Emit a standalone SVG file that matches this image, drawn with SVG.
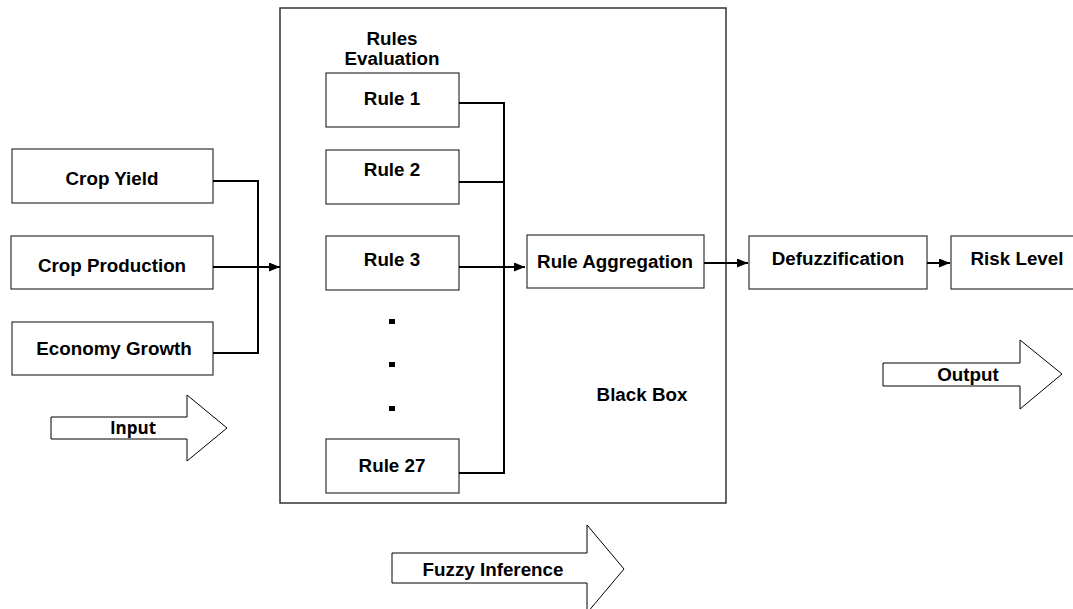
<svg xmlns="http://www.w3.org/2000/svg" width="1073" height="609" viewBox="0 0 1073 609">
<defs>
<marker id="ah" markerWidth="11" markerHeight="9" refX="11" refY="4.5" orient="auto" markerUnits="userSpaceOnUse">
<path d="M0,0 L11,4.5 L0,9 Z" fill="#000"/>
</marker>
<style>
.box{fill:#fff;stroke:#333;stroke-width:1.2}
.big{fill:#fff;stroke:#333;stroke-width:1.5}
.t{font-family:"Liberation Sans",Arial,sans-serif;font-weight:bold;font-size:18.8px;fill:#000;text-anchor:middle}
.c{fill:none;stroke:#000;stroke-width:2}
.blk{fill:#fff;stroke:#000;stroke-width:1}
.ti{font-family:"Open Sans",sans-serif;font-weight:bold;font-size:17px;fill:#000;text-anchor:middle}
</style>
</defs>
<rect width="1073" height="609" fill="#fff"/>
<g id="blackbox">
<rect class="big" x="280" y="8" width="446" height="495"/>
<text class="t" x="642" y="401">Black Box</text>
</g>
<g id="rules-evaluation-label">
<text class="t" x="392" y="45">Rules</text>
<text class="t" x="392" y="65">Evaluation</text>
</g>
<g id="crop-yield"><rect class="box" x="12" y="149" width="201" height="54"/><text class="t" x="112" y="185">Crop Yield</text></g>
<g id="crop-production"><rect class="box" x="11" y="236" width="202" height="53"/><text class="t" x="112" y="272">Crop Production</text></g>
<g id="economy-growth"><rect class="box" x="12" y="322" width="201" height="53"/><text class="t" x="114" y="355">Economy Growth</text></g>
<g id="rule1"><rect class="box" x="326" y="73" width="133" height="54"/><text class="t" x="392" y="105">Rule 1</text></g>
<g id="rule2"><rect class="box" x="326" y="150" width="133" height="54"/><text class="t" x="392" y="176">Rule 2</text></g>
<g id="rule3"><rect class="box" x="326" y="236" width="133" height="54"/><text class="t" x="392" y="266">Rule 3</text></g>
<g id="dots" fill="#000">
<rect x="389" y="319" width="6" height="5"/>
<rect x="389" y="362" width="6" height="5"/>
<rect x="389" y="406" width="6" height="5"/>
</g>
<g id="rule27"><rect class="box" x="326" y="439" width="133" height="54"/><text class="t" x="392" y="472">Rule 27</text></g>
<g id="rule-aggregation"><rect class="box" x="527" y="235" width="177" height="53"/><text class="t" x="615" y="268">Rule Aggregation</text></g>
<g id="defuzzification"><rect class="box" x="749" y="236" width="178" height="53"/><text class="t" x="838" y="265">Defuzzification</text></g>
<g id="risk-level"><rect class="box" x="951" y="236" width="130" height="53"/><text class="t" x="1017" y="265">Risk Level</text></g>
<g id="connectors">
<path class="c" d="M213,181 H258 V353 H213"/>
<path class="c" d="M213,267 H280" marker-end="url(#ah)"/>
<path class="c" d="M459,103 H504 V473 H459"/>
<path class="c" d="M459,182 H504"/>
<path class="c" d="M459,267 H525" marker-end="url(#ah)"/>
<path class="c" d="M704,263 H748" marker-end="url(#ah)"/>
<path class="c" d="M927,263 H950" marker-end="url(#ah)"/>
</g>
<g id="input-arrow">
<path class="blk" d="M51,417 H187 V395 L227,428 L187,461 V439 H51 Z"/>
<text class="ti" x="133" y="434">Input</text>
</g>
<g id="fuzzy-inference-arrow">
<path class="blk" d="M392,553 H587 V525 L624,569 L587,613 V583 H392 Z"/>
<text class="t" x="493" y="576">Fuzzy Inference</text>
</g>
<g id="output-arrow">
<path class="blk" d="M883,363 H1020 V340 L1062,374 L1020,409 V386 H883 Z"/>
<text class="t" x="968" y="381">Output</text>
</g>
</svg>
